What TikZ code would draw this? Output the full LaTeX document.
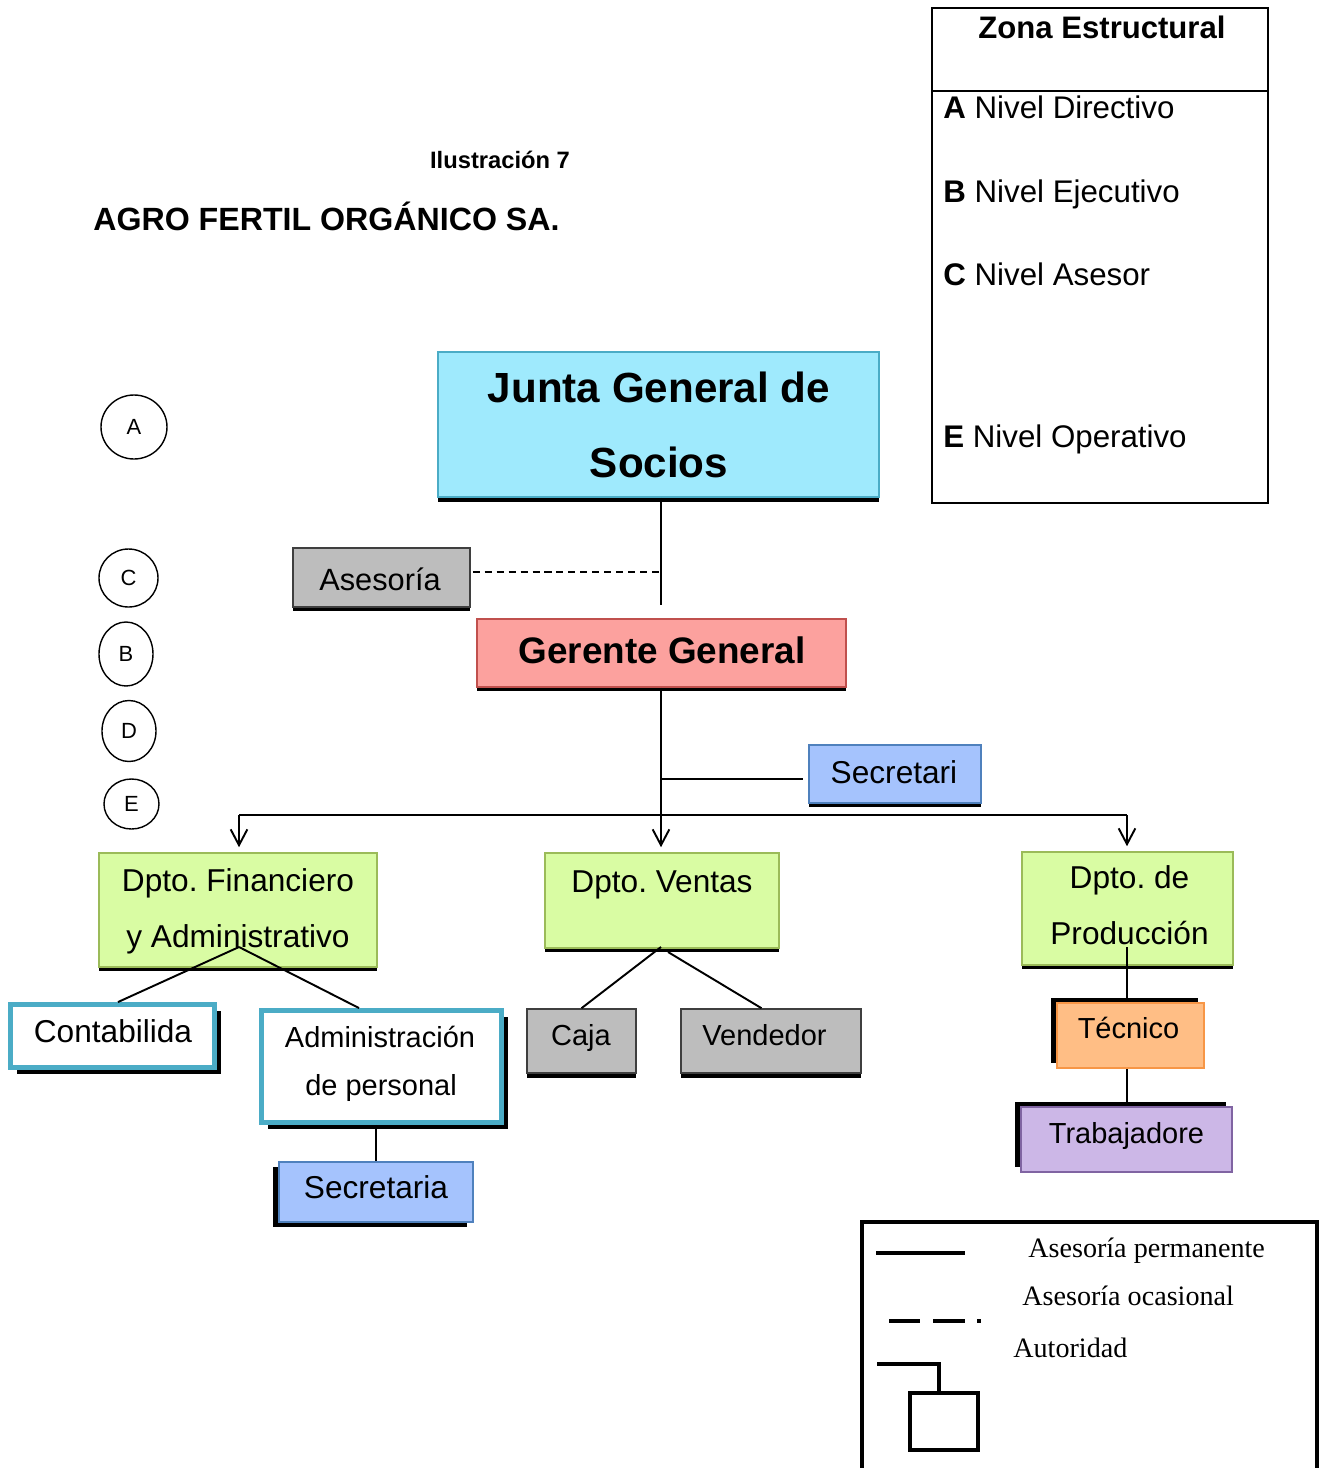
\documentclass[tikz,border=0pt]{standalone}
\usepackage{fontspec}
\setmainfont{Liberation Sans}
\newfontfamily\legfont{Liberation Serif}
\usetikzlibrary{shapes.geometric,arrows.meta}
\newcommand\fsz[1]{\fontsize{#1pt}{#1pt}\selectfont}
\frenchspacing
\definecolor{cyanF}{HTML}{9FEAFD}
\definecolor{cyanD}{HTML}{4BACC6}
\definecolor{pinkF}{HTML}{FCA19E}
\definecolor{pinkD}{HTML}{C0504D}
\definecolor{grayF}{HTML}{BDBDBD}
\definecolor{grayD}{HTML}{3F3F3F}
\definecolor{blueF}{HTML}{A5C3FD}
\definecolor{blueD}{HTML}{4F81BD}
\definecolor{greenF}{HTML}{D9FCA3}
\definecolor{greenD}{HTML}{9BBB59}
\definecolor{tealD}{HTML}{4BACC6}
\definecolor{orangeF}{HTML}{FFBE85}
\definecolor{orangeD}{HTML}{F79646}
\definecolor{purpleF}{HTML}{CCB7E7}
\definecolor{purpleD}{HTML}{8064A2}
\begin{document}
\begin{tikzpicture}[x=0.02cm,y=-0.02cm,
  wh/.style 2 args={minimum width=#1*0.02cm,minimum height=#2*0.02cm},
  box/.style={draw,inner sep=0pt,line width=0.9pt},
  shd/.style 2 args={preaction={fill=black,draw=none,transform canvas={xshift=#1*0.02cm,yshift=#2*0.02cm}}},
  txt/.style={inner sep=0pt,anchor=base},
  txtw/.style={inner sep=0pt,anchor=base west},
  conn/.style={line width=1.1pt},
  arr/.style={line width=1.1pt,-{Straight Barb[length=9pt,width=9.5pt,line width=1.1pt]},shorten >=0.1cm},
  lev/.style={draw,ellipse,inner sep=0pt,line width=0.8pt,font=\fsz{12.5}},
  thick box/.style={draw=tealD,fill=white,inner sep=0pt,line width=2.8pt}]
\useasboundingbox (0,0) rectangle (1326,1468);

% titles
\node[txt,font=\bfseries\fsz{13.5}] (ilu) at (500,168) {Ilustración 7};
\node[txtw,font=\bfseries\fsz{18.3}] (agro) at (93,230) {AGRO FERTIL ORGÁNICO SA.};

% zona estructural
\node[draw,line width=1.4pt,wh={336}{495},inner sep=0pt] (zona) at (1100,255.5) {};
\draw[line width=0.8pt] (932,91) -- (1268,91);
\node[txt,font=\bfseries\fsz{17.7}] (zt) at (1102,38) {Zona Estructural};
\node[txtw,font=\fsz{17.8}] (za) at (943,118) {\textbf{A} Nivel Directivo};
\node[txtw,font=\fsz{17.8}] (zb) at (943,202) {\textbf{B} Nivel Ejecutivo};
\node[txtw,font=\fsz{17.8}] (zc) at (943,285) {\textbf{C} Nivel Asesor};
\node[txtw,font=\fsz{17.8}] (ze) at (943,447) {\textbf{E} Nivel Operativo};

% level circles
\node[lev,wh={66}{64}] (la) at (134,427) {A};
\node[lev,wh={59}{58}] (lc) at (128.5,578) {C};
\node[lev,wh={54}{64}] (lb) at (126,654) {B};
\node[lev,wh={54}{61}] (ld) at (129,731) {D};
\node[lev,wh={55}{50}] (le) at (131.5,804) {E};

% boxes
\node[box,draw=cyanD,fill=cyanF,wh={441}{145},shd={0}{-5}] (junta) at (658.5,424.5) {};
\node[box,draw=grayD,fill=grayF,wh={177}{59},shd={0}{-4}] (ases) at (381.5,577.5) {};
\node[box,draw=pinkD,fill=pinkF,wh={369}{68},shd={0}{-4}] (ger) at (661.5,653) {};
\node[box,draw=blueD,fill=blueF,wh={172}{58},shd={0}{-4}] (sec1) at (895,774) {};
\node[box,draw=greenD,fill=greenF,wh={278}{114},shd={0}{-4}] (fin) at (238,910) {};
\node[box,draw=greenD,fill=greenF,wh={234}{95},shd={0}{-4}] (ven) at (662,900.5) {};
\node[box,draw=greenD,fill=greenF,wh={211}{113},shd={0}{-4}] (prod) at (1127.5,908.5) {};
\node[thick box,wh={204}{63},shd={6}{-6}] (cont) at (112.5,1036) {};
\node[thick box,wh={240}{112},shd={6}{-6}] (adm) at (381.5,1066.5) {};
\node[box,draw=blueD,fill=blueF,wh={194}{60},shd={-6}{-5}] (sec2) at (376,1192) {};
\node[box,draw=grayD,fill=grayF,wh={109}{64},shd={0}{-5}] (caja) at (581.5,1041) {};
\node[box,draw=grayD,fill=grayF,wh={180}{64},shd={0}{-5}] (vend) at (771,1041) {};
\node[box,draw=orangeD,fill=orangeF,wh={147}{65},shd={-6}{5}] (tec) at (1130.5,1035.5) {};
\node[box,draw=purpleD,fill=purpleF,wh={211}{65},shd={-6}{5}] (trab) at (1126.5,1139.5) {};

% box texts
\node[txt,font=\bfseries\fsz{24}] (tj1) at (659,402) {Junta General de};
\node[txt,font=\bfseries\fsz{24}] (tj2) at (659,477) {Socios};
\node[txt,font=\fsz{17.5}] (tas) at (380,590) {Asesoría};
\node[txt,font=\bfseries\fsz{21}] (tge) at (662,663) {Gerente General};
\node[txt,font=\fsz{18}] (ts1) at (894,783) {Secretari};
\node[txt,font=\fsz{18}] (tf1) at (238,891) {Dpto. Financiero};
\node[txt,font=\fsz{18}] (tf2) at (238,947) {y Administrativo};
\node[txt,font=\fsz{18}] (tv1) at (662,892) {Dpto. Ventas};
\node[txt,font=\fsz{18}] (tp1) at (1129.5,888) {Dpto. de};
\node[txt,font=\fsz{18}] (tp2) at (1129.5,944) {Producción};
\node[txt,font=\fsz{18}] (tco) at (113,1042) {Contabilida};
\node[txt,font=\fsz{16.5}] (tad1) at (380,1047) {Administración};
\node[txt,font=\fsz{16.5}] (tad2) at (381,1095) {de personal};
\node[txt,font=\fsz{18}] (ts2) at (376,1198) {Secretaria};
\node[txt,font=\fsz{16.5}] (tca) at (581,1045) {Caja};
\node[txt,font=\fsz{16.5}] (tve) at (764.5,1045) {Vendedor};
\node[txt,font=\fsz{16.5}] (tte) at (1128.5,1038) {Técnico};
\node[txt,font=\fsz{16.5}] (ttr) at (1126.5,1143) {Trabajadore};

% connectors
\coordinate (jg) at (661,605);
\coordinate (jd) at (661,572);
\coordinate (gs) at (661,779);
\coordinate (bl) at (239,815);
\coordinate (br) at (1127,815);
\coordinate (fc) at (239,947);
\coordinate (vc) at (661,947);
\coordinate (vc2) at (668,952);
\coordinate (pc) at (1127,947);

\draw[conn] (jg |- junta.south) -- (jg);
\draw[line width=1.1pt,dash pattern=on 4pt off 2.8pt] (ases.east |- jd) ++(0.04cm,0) -- (jd);
\draw[arr] (ger.south -| jg) -- (ven.north -| jg);
\draw[conn,shorten >=0.1cm] (gs) -- (sec1.west |- gs);
\draw[conn] (bl) -- (br);
\draw[arr] (bl) -- (bl |- fin.north);
\draw[arr] (br) -- (br |- prod.north);
\draw[conn] (fc) -- ([xshift=0.11cm]cont.north);
\draw[conn] (fc) -- ([xshift=-0.45cm]adm.north);
\draw[conn] (sec2.north |- adm.south) -- (sec2.north);
\draw[conn] (vc) -- (caja.north);
\draw[conn] (vc2) -- ([xshift=-0.19cm]vend.north);
\draw[conn] (pc) -- (pc |- tec.north);
\draw[conn] (pc |- tec.south) -- (pc |- trab.north);

% legend
\draw[line width=2.2pt] (862,1468) -- (862,1222) -- (1317,1222) -- (1317,1468);
\draw[line width=2.8pt] (876,1253) -- (965,1253);
\draw[line width=2.8pt] (889,1321) -- (920,1321) (933,1321) -- (965,1321) (977,1321) -- (981,1321);
\draw[line width=2.3pt] (877,1364) -- (939,1364) -- (939,1393);
\node[draw,line width=2.3pt,wh={68}{57},inner sep=0pt] (auth) at (944,1421.5) {};
\node[txtw,font=\legfont\fsz{16}] (l1) at (1028,1257) {Asesoría permanente};
\node[txtw,font=\legfont\fsz{16}] (l2) at (1022,1305) {Asesoría ocasional};
\node[txtw,font=\legfont\fsz{16}] (l3) at (1013,1357) {Autoridad};
\end{tikzpicture}
\end{document}
